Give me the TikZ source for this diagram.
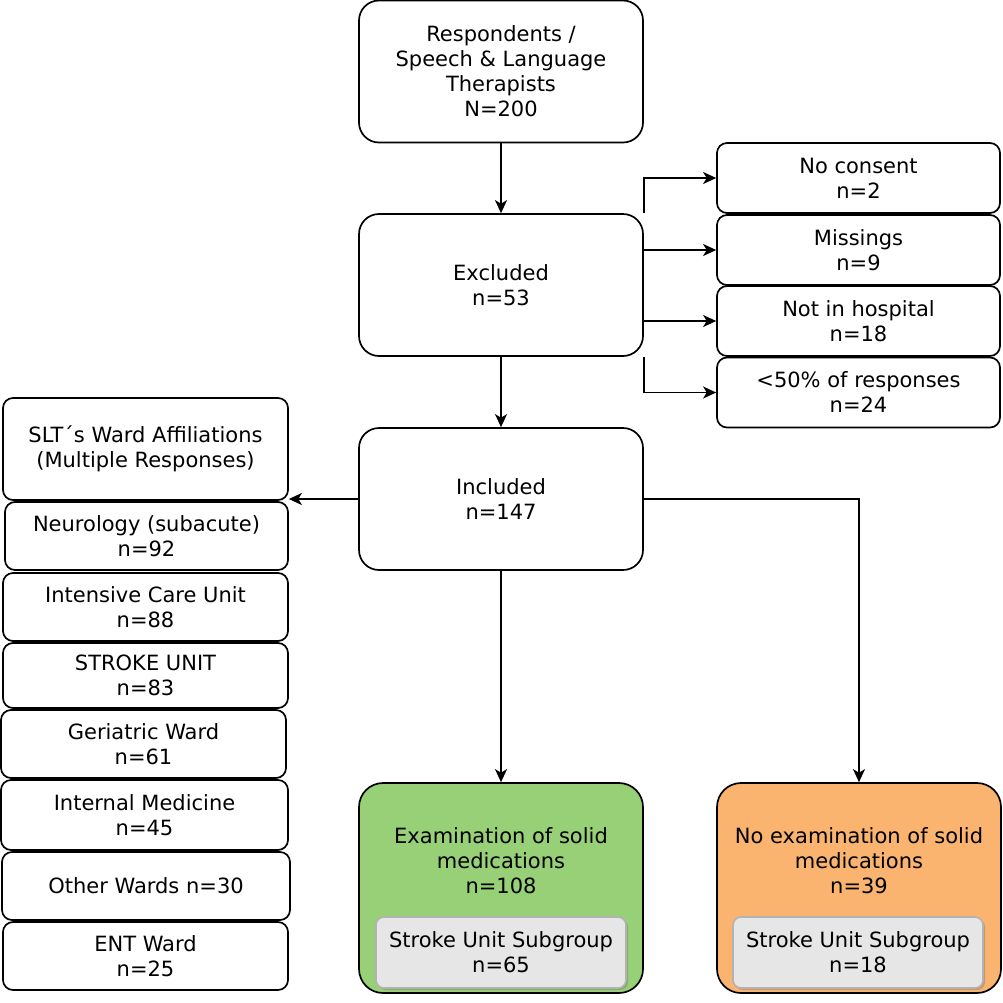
\documentclass[tikz,border=0pt]{standalone}
\usepackage{fontspec}
\setmainfont{DejaVu Sans}
\usetikzlibrary{arrows.meta,shadows}
\definecolor{boxgreen}{HTML}{97D077}
\definecolor{boxorange}{HTML}{FBB470}
\definecolor{subfill}{HTML}{E6E6E6}
\definecolor{subdraw}{HTML}{B3B3B3}
\begin{document}
\begin{tikzpicture}[x=1pt,y=-1pt,
  font=\fontsize{21}{25}\selectfont,
  box/.style={draw, line width=1.7pt, align=center, inner sep=0pt},
  bigbox/.style={box, rounded corners=20pt, minimum width=284pt, minimum height=142pt},
  sidebox/.style={box, rounded corners=10pt, minimum width=283pt, minimum height=70pt},
  wardbox/.style={box, rounded corners=10pt},
  outbox/.style={box, rounded corners=24pt, minimum width=284pt, minimum height=210pt},
  subbox/.style={draw=subdraw, fill=subfill, line width=1.6pt, rounded corners=8pt,
    minimum width=250pt, minimum height=71pt, align=center, inner sep=0pt,
    drop shadow={shadow xshift=2pt, shadow yshift=-2pt, opacity=0.35, fill=black!60}},
  txt/.style={align=center, inner sep=0pt},
  arr/.style={line width=1.7pt, -{Stealth[length=13pt,width=12pt,inset=3.5pt]}}
]
\useasboundingbox (0,0) rectangle (1003,1002);

% main column
\node[bigbox] (resp) at (501,71.5) {Respondents /\\Speech \& Language\\Therapists\\N=200};
\node[bigbox] (excl) at (501,285) {Excluded\\n=53};
\node[bigbox] (incl) at (501,499) {Included\\n=147};

% exclusion reasons
\node[sidebox] (noc)  at (858.5,178)   {No consent\\n=2};
\node[sidebox] (miss) at (858.5,250)   {Missings\\n=9};
\node[sidebox] (noth) at (858.5,321)   {Not in hospital\\n=18};
\node[sidebox] (l50)  at (858.5,392.5) {<50\% of responses\\n=24};

% ward affiliations
\node[wardbox, minimum width=285pt, minimum height=102pt] (slt) at (145.5,449) {SLT´s Ward Affiliations\\(Multiple Responses)};
\node[wardbox, minimum width=283pt, minimum height=68pt] (neuro) at (146.5,536) {Neurology (subacute)\\n=92};
\node[wardbox, minimum width=285pt, minimum height=68pt] (icu) at (145.5,607) {Intensive Care Unit\\n=88};
\node[wardbox, minimum width=285pt, minimum height=65pt] (stroke) at (145.5,675.5) {STROKE UNIT\\n=83};
\node[wardbox, minimum width=285pt, minimum height=68pt] (geri) at (143.5,744) {Geriatric Ward\\n=61};
\node[wardbox, minimum width=287pt, minimum height=70pt] (intmed) at (144.5,815) {Internal Medicine\\n=45};
\node[wardbox, minimum width=288pt, minimum height=68pt] (other) at (146,886) {Other Wards n=30};
\node[wardbox, minimum width=285pt, minimum height=68pt] (ent) at (145.5,956) {ENT Ward\\n=25};

% outcome boxes
\node[outbox, fill=boxgreen] (exam) at (501,888) {};
\node[txt] (examt) at (501,861) {Examination of solid\\medications\\n=108};
\node[subbox] (examsub) at (501,952.5) {Stroke Unit Subgroup\\n=65};

\node[outbox, fill=boxorange] (noexam) at (859,888) {};
\node[txt] (noexamt) at (859,861) {No examination of solid\\medications\\n=39};
\node[subbox] (noexamsub) at (858,952.5) {Stroke Unit Subgroup\\n=18};

% connectors
\draw[arr] (resp.south) -- (excl.north);
\draw[arr] (excl.south) -- (incl.north);
\draw[arr] (excl.north east) |- (noc.west);
\draw[arr] (excl.east |- miss.west) -- (miss.west);
\draw[arr] (excl.east |- noth.west) -- (noth.west);
\draw[arr] (excl.south east) |- (l50.west);
\draw[arr] (incl.west) -- (incl.west -| slt.east);
\draw[arr] (incl.south) -- (exam.north);
\draw[arr] (incl.east) -| (noexam.north);
\end{tikzpicture}
\end{document}
